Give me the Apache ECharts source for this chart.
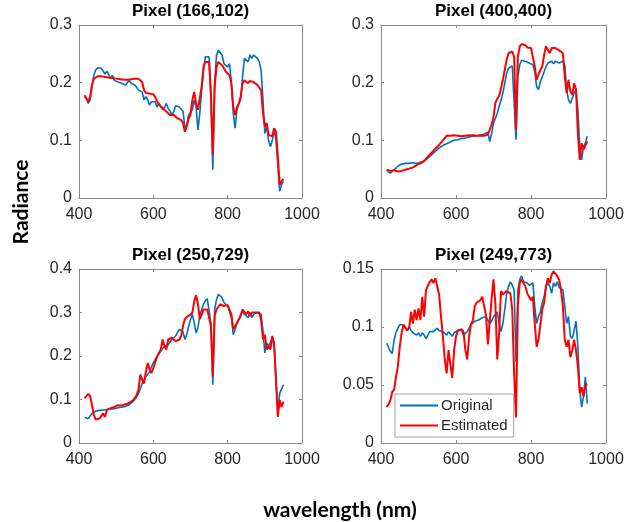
<!DOCTYPE html>
<html>
<head>
<meta charset="utf-8">
<script src="https://cdn.jsdelivr.net/npm/echarts@6/dist/echarts.min.js"></script>
<style>
    html, body { margin: 0; padding: 0; background: #fff; }
    #chart { width: 638px; height: 522px; }
</style>
</head>
<body>
<div id="chart"></div>
<script>
    // wavelength samples (nm), shared by all four pixels
    const wavelength = [
        415, 420, 425, 430, 435, 440, 445, 450, 455, 460,
        465, 470, 475, 480, 485, 490, 495, 500, 505, 510,
        515, 520, 525, 530, 535, 540, 545, 550, 555, 560,
        565, 570, 575, 580, 585, 590, 595, 600, 605, 610,
        615, 620, 625, 630, 635, 640, 645, 650, 655, 660,
        665, 670, 675, 680, 685, 690, 695, 700, 705, 710,
        715, 720, 725, 730, 735, 740, 745, 750, 755, 760,
        765, 770, 775, 780, 785, 790, 795, 800, 805, 810,
        815, 820, 825, 830, 835, 840, 845, 850, 855, 860,
        865, 870, 875, 880, 885, 890, 895, 900, 905, 910,
        915, 920, 925, 930, 935, 940, 945, 950
    ];

    // Pixel (166,102)
    const orig166 = [
        .176, .172, .164, .170, .193, .213, .222, .226, .227, .225,
        .222, .215, .220, .217, .207, .213, .204, .207, .201, .204,
        .199, .202, .196, .200, .204, .199, .200, .196, .192, .187,
        .188, .184, .170, .176, .170, .161, .167, .170, .167, .158,
        .164, .158, .153, .157, .164, .155, .151, .144, .150, .160,
        .160, .158, .157, .150, .121, .127, .144, .147, .153, .170,
        .158, .118, .147, .187, .222, .245, .248, .245, .170, .049,
        .200, .248, .256, .256, .248, .233, .230, .227, .233, .199,
        .147, .121, .153, .164, .170, .210, .242, .245, .236, .248,
        .242, .248, .245, .242, .236, .222, .170, .112, .124, .100,
        .089, .100, .118, .100, .055, .012, .023, .029
    ];
    const est166 = [
        .178, .176, .167, .176, .196, .207, .210, .211, .212, .211,
        .210, .210, .210, .209, .209, .208, .208, .207, .207, .206,
        .205, .205, .205, .205, .205, .206, .206, .207, .208, .207,
        .204, .201, .187, .182, .181, .181, .180, .180, .175, .168,
        .162, .160, .156, .153, .150, .147, .144, .141, .144, .141,
        .138, .138, .135, .130, .115, .124, .138, .144, .170, .184,
        .164, .153, .153, .193, .227, .236, .239, .236, .181, .075,
        .193, .227, .236, .238, .230, .225, .219, .216, .213, .199,
        .158, .144, .158, .164, .176, .199, .204, .207, .199, .203,
        .204, .201, .199, .196, .194, .187, .147, .124, .130, .109,
        .112, .107, .121, .115, .072, .023, .029, .033
    ];

    // Pixel (400,400)
    const orig400 = [
        .048, .046, .043, .046, .049, .052, .055, .058, .059, .059,
        .060, .061, .060, .061, .061, .061, .060, .061, .062, .062,
        .064, .066, .069, .072, .075, .078, .081, .084, .087, .089,
        .091, .092, .094, .095, .097, .098, .100, .101, .101, .102,
        .103, .104, .104, .104, .106, .107, .107, .108, .108, .108,
        .109, .110, .111, .112, .114, .098, .112, .130, .138, .147,
        .150, .170, .182, .199, .216, .225, .228, .229, .228, .101,
        .210, .231, .239, .242, .237, .237, .234, .234, .231, .219,
        .193, .188, .202, .210, .219, .228, .234, .231, .237, .233,
        .237, .239, .234, .237, .237, .231, .188, .170, .164, .173,
        .182, .188, .153, .089, .066, .089, .095, .107
    ];
    const est400 = [
        .049, .048, .047, .049, .048, .046, .046, .046, .047, .048,
        .049, .050, .051, .052, .053, .055, .057, .058, .060, .061,
        .064, .068, .071, .075, .078, .082, .086, .089, .092, .095,
        .100, .104, .108, .107, .108, .108, .109, .110, .108, .107,
        .107, .107, .108, .108, .109, .110, .109, .108, .108, .108,
        .108, .108, .108, .108, .110, .112, .127, .140, .165, .172,
        .177, .190, .205, .222, .240, .251, .254, .254, .245, .118,
        .245, .263, .267, .268, .265, .261, .260, .260, .257, .228,
        .205, .214, .222, .228, .248, .263, .265, .251, .260, .258,
        .260, .257, .256, .254, .251, .211, .182, .205, .185, .179,
        .199, .188, .113, .066, .095, .084, .087, .098
    ];

    // Pixel (250,729)
    const orig250 = [
        .059, .056, .056, .062, .068, .072, .073, .074, .075, .076,
        .076, .076, .077, .077, .078, .080, .079, .080, .081, .082,
        .082, .083, .084, .085, .088, .091, .095, .099, .106, .114,
        .125, .137, .145, .153, .158, .164, .175, .184, .192, .199,
        .205, .211, .217, .222, .224, .226, .232, .238, .242, .246,
        .254, .261, .265, .255, .238, .250, .268, .284, .296, .276,
        .253, .265, .292, .307, .319, .327, .332, .332, .276, .134,
        .307, .330, .342, .344, .334, .323, .319, .315, .311, .288,
        .249, .261, .276, .284, .296, .303, .296, .300, .288, .300,
        .288, .296, .292, .300, .303, .296, .257, .207, .230, .222,
        .219, .242, .222, .145, .072, .114, .118, .134
    ];
    const est250 = [
        .103, .107, .113, .107, .087, .064, .054, .053, .056, .060,
        .068, .060, .076, .072, .080, .076, .083, .080, .087, .083,
        .086, .087, .089, .091, .092, .095, .098, .103, .110, .122,
        .157, .145, .137, .164, .184, .168, .161, .172, .185, .199,
        .207, .215, .238, .222, .215, .238, .241, .242, .238, .234,
        .230, .238, .246, .270, .285, .290, .293, .295, .300, .325,
        .340, .320, .285, .295, .307, .309, .307, .307, .269, .153,
        .292, .307, .311, .319, .319, .315, .319, .317, .315, .296,
        .261, .269, .276, .280, .292, .307, .307, .296, .303, .292,
        .300, .300, .300, .300, .300, .284, .238, .249, .215, .222,
        .215, .246, .230, .145, .060, .099, .083, .095
    ];

    // Pixel (249,773)
    const orig249 = [
        .086, .085, .079, .077, .089, .095, .099, .102, .103, .102,
        .099, .097, .100, .097, .095, .096, .093, .095, .092, .095,
        .093, .090, .093, .096, .097, .096, .097, .099, .097, .097,
        .096, .095, .093, .096, .095, .092, .095, .096, .097, .097,
        .097, .093, .092, .096, .097, .102, .103, .105, .104, .106,
        .107, .108, .108, .109, .106, .103, .105, .109, .110, .113,
        .103, .096, .103, .115, .128, .135, .139, .136, .132, .070,
        .132, .141, .144, .139, .138, .138, .136, .135, .138, .118,
        .103, .109, .113, .121, .126, .135, .138, .135, .129, .138,
        .135, .139, .134, .135, .132, .118, .103, .109, .092, .090,
        .097, .105, .083, .046, .031, .040, .057, .034
    ];
    const est249 = [
        .031, .033, .037, .044, .046, .057, .066, .083, .095, .102,
        .103, .097, .099, .113, .103, .115, .106, .116, .106, .126,
        .109, .132, .131, .139, .141, .138, .142, .141, .128, .109,
        .092, .072, .060, .080, .080, .056, .080, .092, .097, .096,
        .098, .096, .080, .072, .092, .102, .106, .118, .121, .122,
        .123, .126, .118, .110, .085, .105, .125, .141, .120, .072,
        .095, .131, .128, .129, .131, .131, .129, .115, .060, .022,
        .118, .138, .141, .138, .135, .129, .128, .123, .126, .103,
        .083, .089, .102, .115, .121, .135, .142, .138, .145, .148,
        .147, .144, .141, .132, .118, .089, .083, .089, .074, .080,
        .089, .080, .066, .043, .048, .040, .050, .051
    ];

    const blue = '#0072BD';
    const red = '#FF0000';
    const boxGray = '#8a8a8a';
    const tickText = '#262626';
    const font = '"Liberation Sans", Arial, sans-serif';

    const panels = [
        { title: 'Pixel (166,102)', orig: orig166, est: est166, yMax: 0.3, yStep: 0.1, box: { left: 79, top: 25, width: 223, height: 173 } },
        { title: 'Pixel (400,400)', orig: orig400, est: est400, yMax: 0.3, yStep: 0.1, box: { left: 381, top: 25, width: 225, height: 173 } },
        { title: 'Pixel (250,729)', orig: orig250, est: est250, yMax: 0.4, yStep: 0.1, box: { left: 79, top: 269, width: 223, height: 174 } },
        { title: 'Pixel (249,773)', orig: orig249, est: est249, yMax: 0.15, yStep: 0.05, box: { left: 381, top: 269, width: 225, height: 174 } }
    ];

    const pairs = vals => wavelength.map((w, k) => [w, vals[k]]);

    const grid = [], xAxis = [], yAxis = [], series = [], title = [];

    panels.forEach((p, i) => {
        grid.push(p.box);
        title.push({
            text: p.title,
            left: p.box.left + p.box.width / 2,
            top: p.box.top - 22,
            textAlign: 'center',
            padding: 0,
            textStyle: { fontFamily: font, fontSize: 17, fontWeight: 'bold', color: '#000' }
        });

        const line = { show: true, onZero: false, lineStyle: { color: boxGray, width: 1 } };
        const tick = { show: true, inside: true, length: 3, lineStyle: { color: boxGray } };

        // bottom + mirrored top
        xAxis.push({
            gridIndex: i, type: 'value', position: 'bottom',
            min: 400, max: 1000, interval: 200,
            axisLine: line, axisTick: tick, splitLine: { show: false },
            axisLabel: { margin: 9, color: tickText, fontFamily: font, fontSize: 16, formatter: v => String(v) }
        });
        xAxis.push({
            gridIndex: i, type: 'value', position: 'top',
            min: 400, max: 1000, interval: 200,
            axisLine: line, axisTick: tick, splitLine: { show: false },
            axisLabel: { show: false }
        });
        // left + mirrored right
        yAxis.push({
            gridIndex: i, type: 'value', position: 'left',
            min: 0, max: p.yMax, interval: p.yStep,
            axisLine: line, axisTick: tick, splitLine: { show: false },
            axisLabel: { margin: 7, color: tickText, fontFamily: font, fontSize: 16, formatter: v => String(+v.toFixed(2)) }
        });
        yAxis.push({
            gridIndex: i, type: 'value', position: 'right',
            min: 0, max: p.yMax, interval: p.yStep,
            axisLine: line, axisTick: tick, splitLine: { show: false },
            axisLabel: { show: false }
        });

        series.push({
            name: 'Original', type: 'line',
            xAxisIndex: 2 * i, yAxisIndex: 2 * i,
            data: pairs(p.orig),
            symbol: 'none', showSymbol: false,
            lineStyle: { color: blue, width: 1.6 },
            itemStyle: { color: blue },
            z: 2
        });
        series.push({
            name: 'Estimated', type: 'line',
            xAxisIndex: 2 * i, yAxisIndex: 2 * i,
            data: pairs(p.est),
            symbol: 'none', showSymbol: false,
            lineStyle: { color: red, width: 2 },
            itemStyle: { color: red },
            z: 3
        });
    });

    const chart = echarts.init(document.getElementById('chart'));
    chart.setOption({
        animation: false,
        backgroundColor: '#fff',
        title: title,
        grid: grid,
        xAxis: xAxis,
        yAxis: yAxis,
        legend: {
            data: [
                { name: 'Original', icon: 'rect', itemStyle: { color: blue } },
                { name: 'Estimated', icon: 'rect', itemStyle: { color: red } }
            ],
            orient: 'vertical',
            left: 395,
            top: 394,
            padding: [3, 6, 3, 5],
            itemGap: 3,
            itemWidth: 38,
            itemHeight: 2,
            borderColor: '#a0a0a0',
            borderWidth: 1,
            backgroundColor: '#fff',
            textStyle: { fontFamily: font, fontSize: 15, color: tickText, lineHeight: 17, padding: [0, 0, 0, -2] },
            z: 10
        },
        graphic: [
            {
                type: 'text', x: 21, y: 202, rotation: Math.PI / 2,
                style: { text: 'Radiance', fontFamily: 'Lato', fontSize: 21, fontWeight: 'bold', fill: '#000', align: 'center', verticalAlign: 'middle' }
            },
            {
                type: 'text', x: 340, y: 510,
                style: { text: 'wavelength (nm)', fontFamily: 'Lato', fontSize: 21, fontWeight: 'bold', fill: '#000', align: 'center', verticalAlign: 'middle' }
            }
        ],
        series: series
    });
</script>
</body>
</html>
